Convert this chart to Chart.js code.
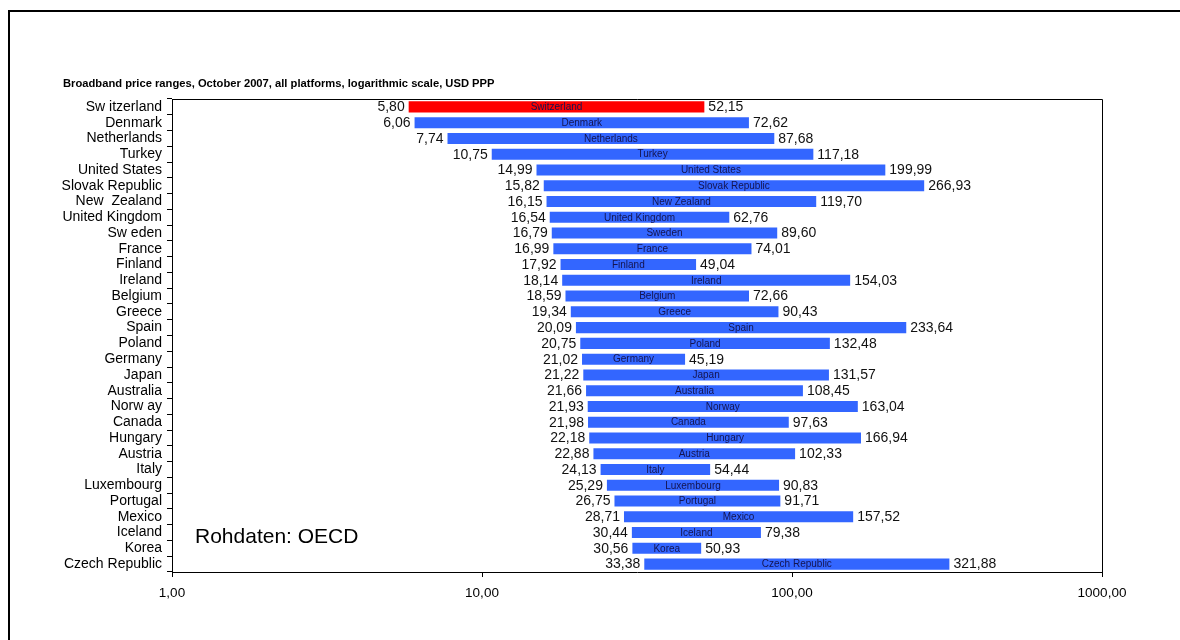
<!DOCTYPE html>
<html><head><meta charset="utf-8">
<script src="https://cdn.jsdelivr.net/npm/chart.js@4.4.1/dist/chart.umd.min.js"></script>
<style>html,body{margin:0;padding:0;background:#fff;}#wrap{position:relative;width:1180px;height:640px;}</style>
</head><body><div id="wrap"><canvas id="c" width="1180" height="640"></canvas></div>
<script>
const axisLabels = ["Sw itzerland","Denmark","Netherlands","Turkey","United States","Slovak Republic","New  Zealand","United Kingdom","Sw eden","France","Finland","Ireland","Belgium","Greece","Spain","Poland","Germany","Japan","Australia","Norw ay","Canada","Hungary","Austria","Italy","Luxembourg","Portugal","Mexico","Iceland","Korea","Czech Republic"];
const countries = ["Switzerland","Denmark","Netherlands","Turkey","United States","Slovak Republic","New Zealand","United Kingdom","Sweden","France","Finland","Ireland","Belgium","Greece","Spain","Poland","Germany","Japan","Australia","Norway","Canada","Hungary","Austria","Italy","Luxembourg","Portugal","Mexico","Iceland","Korea","Czech Republic"];
const minPrice = [5.80,6.06,7.74,10.75,14.99,15.82,16.15,16.54,16.79,16.99,17.92,18.14,18.59,19.34,20.09,20.75,21.02,21.22,21.66,21.93,21.98,22.18,22.88,24.13,25.29,26.75,28.71,30.44,30.56,33.38];
const maxPrice = [52.15,72.62,87.68,117.18,199.99,266.93,119.70,62.76,89.60,74.01,49.04,154.03,72.66,90.43,233.64,132.48,45.19,131.57,108.45,163.04,97.63,166.94,102.33,54.44,90.83,91.71,157.52,79.38,50.93,321.88];
const xTicks = [1,10,100,1000];
const titleText = "Broadband price ranges, October 2007, all platforms, logarithmic scale, USD PPP";
const noteText = "Rohdaten: OECD";

const fmt = v => v.toFixed(2).replace('.', ',');
const FONT = '"Liberation Sans", Arial, sans-serif';

const decor = {
  id: 'decor',
  beforeDraw(chart) {
    const ctx = chart.ctx;
    ctx.save();
    ctx.fillStyle = '#fff';
    ctx.fillRect(0, 0, chart.width, chart.height);
    ctx.strokeStyle = '#000';
    ctx.lineWidth = 2;
    ctx.beginPath();
    ctx.moveTo(9, 640); ctx.lineTo(9, 11); ctx.lineTo(1180, 11);
    ctx.stroke();
    ctx.restore();
  },
  afterDraw(chart) {
    const ctx = chart.ctx, a = chart.chartArea;
    const xs = chart.scales.x, ys = chart.scales.y;
    ctx.save();
    ctx.strokeStyle = '#000'; ctx.lineWidth = 1;
    ctx.beginPath();
    ctx.moveTo(a.left, a.top + 0.5); ctx.lineTo(a.right + 0.5, a.top + 0.5); ctx.lineTo(a.right + 0.5, a.bottom);
    ctx.stroke();
    ctx.fillStyle = '#000';
    ctx.font = 'bold 11.2px ' + FONT;
    ctx.textAlign = 'left'; ctx.textBaseline = 'middle';
    ctx.fillText(titleText, 63, 84);
    ctx.font = '21px ' + FONT;
    ctx.fillText(noteText, 195, 537);
    const meta = chart.getDatasetMeta(0);
    meta.data.forEach((bar, i) => {
      const y = ys.getPixelForValue(i);
      const x0 = xs.getPixelForValue(minPrice[i]);
      const x1 = xs.getPixelForValue(maxPrice[i]);
      ctx.font = '14px ' + FONT;
      ctx.fillStyle = '#111';
      ctx.textBaseline = 'middle';
      ctx.textAlign = 'right';
      ctx.fillText(fmt(minPrice[i]), x0 - 4, y + 0.5);
      ctx.textAlign = 'left';
      ctx.fillText(fmt(maxPrice[i]), x1 + 4, y + 0.5);
      ctx.font = '10px ' + FONT;
      ctx.fillStyle = '#141450';
      ctx.textAlign = 'center';
      ctx.fillText(countries[i], (x0 + x1) / 2, y + 0.5);
    });
    ctx.restore();
  }
};

new Chart(document.getElementById('c'), {
  type: 'bar',
  data: {
    labels: axisLabels,
    datasets: [{
      data: minPrice.map((v, i) => [v, maxPrice[i]]),
      backgroundColor: countries.map((c, i) => i === 0 ? '#FF0000' : '#3366FF'),
      borderWidth: 0,
      barPercentage: 0.7,
      categoryPercentage: 1.0
    }]
  },
  options: {
    indexAxis: 'y',
    responsive: false,
    animation: false,
    devicePixelRatio: 1,
    layout: { padding: { top: 99, bottom: 28, left: 0, right: 78 } },
    plugins: { legend: { display: false }, tooltip: { enabled: false }, title: { display: false } },
    scales: {
      x: {
        type: 'logarithmic',
        min: 1, max: 1000,
        afterBuildTicks: s => { s.ticks = xTicks.map(v => ({ value: v })); },
        afterFit: s => { s.height = 40; },
        grid: { drawOnChartArea: false, drawTicks: true, tickLength: 5, color: '#000' },
        border: { display: true, color: '#000', width: 1 },
        ticks: { color: '#000', font: { family: FONT, size: 13.5 }, padding: 8, maxRotation: 0, autoSkip: false,
                 callback: v => fmt(Number(v)) }
      },
      y: {
        afterFit: s => { s.width = 172; },
        grid: { drawOnChartArea: false, drawTicks: true, tickLength: 5, color: '#000', offset: true },
        border: { display: true, color: '#000', width: 1 },
        ticks: { color: '#000', font: { family: FONT, size: 14 }, padding: 5, autoSkip: false }
      }
    }
  },
  plugins: [decor]
});
</script></body></html>
